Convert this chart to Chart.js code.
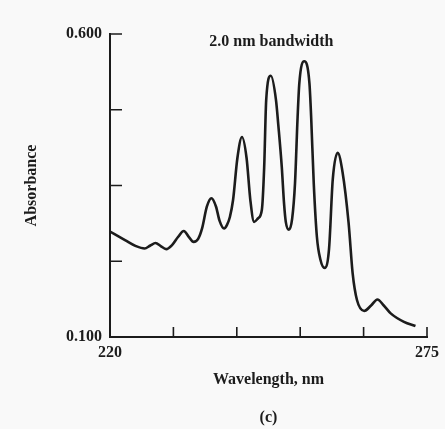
<!DOCTYPE html>
<html>
<head>
<meta charset="utf-8">
<script src="https://cdn.jsdelivr.net/npm/chart.js@4/dist/chart.umd.min.js"></script>
<style>
  html, body { margin: 0; padding: 0; background: #f9f9f9; }
  canvas { display: block; }
</style>
</head>
<body>
<canvas id="spectrum" width="445" height="429"></canvas>
<script>
// benzene vapour spectrum
const wavelength = [
  220.0, 222.6, 224.5, 226.0, 227.0, 227.9, 228.8, 229.75, 230.8, 231.8,
  232.8, 233.7, 234.5, 235.3, 236.0, 236.8, 237.6, 238.4, 239.0, 239.8,
  240.3, 240.8, 241.35, 242.1, 242.9, 243.7, 244.35, 245.0, 245.7, 246.35,
  246.75, 247.1, 247.9, 248.8, 249.2, 249.8, 250.2, 250.5, 251.05, 251.6,
  252.1, 252.55, 252.85, 253.7, 254.6, 254.9, 255.35, 255.9, 256.5, 257.25,
  258.0, 258.65, 259.5, 260.35, 261.4, 262.1, 262.85, 264.1, 265.3, 266.4,
  267.5, 268.7, 271.0, 273.0
];
const absorbance = [
  0.274, 0.260, 0.250, 0.246, 0.251, 0.255, 0.250, 0.245, 0.252, 0.265,
  0.275, 0.265, 0.257, 0.262, 0.280, 0.315, 0.329, 0.315, 0.292, 0.279,
  0.285, 0.298, 0.326, 0.395, 0.430, 0.395, 0.326, 0.290, 0.296, 0.310,
  0.380, 0.491, 0.531, 0.491, 0.450, 0.381, 0.320, 0.290, 0.277, 0.295,
  0.354, 0.463, 0.519, 0.555, 0.519, 0.463, 0.354, 0.265, 0.228, 0.214,
  0.245, 0.360, 0.404, 0.372, 0.288, 0.205, 0.161, 0.143, 0.152, 0.162,
  0.152, 0.139, 0.125, 0.118
];

const xTickValues = [220, 231, 242, 253, 264, 275];
const xTickLabels = ['220', '', '', '', '', '275'];
const yTickValues = [0.100, 0.225, 0.350, 0.475, 0.600];
const yTickLabels = ['0.100', '', '', '', '0.600'];

const ink = '#1c1c1c';
const serif = "'Liberation Serif', 'DejaVu Serif', serif";

// ticks in the original point into the plot, so draw them by hand
const inwardTicks = {
  id: 'inwardTicks',
  afterDatasetsDraw(chart) {
    const { ctx, chartArea, scales } = chart;
    ctx.save();
    ctx.strokeStyle = ink;
    ctx.lineWidth = 1.6;
    ctx.beginPath();
    scales.x.ticks.forEach(t => {
      const px = scales.x.getPixelForValue(t.value);
      ctx.moveTo(px, chartArea.bottom);
      ctx.lineTo(px, chartArea.bottom - 10);
    });
    scales.y.ticks.forEach(t => {
      const py = scales.y.getPixelForValue(t.value);
      ctx.moveTo(chartArea.left, py);
      ctx.lineTo(chartArea.left + 12, py);
    });
    ctx.stroke();
    ctx.restore();
  }
};

const bandNote = {
  id: 'bandNote',
  afterDraw(chart) {
    const { ctx, chartArea, scales } = chart;
    ctx.save();
    ctx.fillStyle = ink;
    ctx.font = 'bold 16px ' + serif;
    ctx.textAlign = 'center';
    ctx.textBaseline = 'middle';
    ctx.fillText('2.0 nm bandwidth', scales.x.getPixelForValue(248), chartArea.top + 8);
    ctx.restore();
  }
};

new Chart(document.getElementById('spectrum'), {
  type: 'line',
  data: {
    datasets: [{
      data: wavelength.map((w, i) => ({ x: w, y: absorbance[i] })),
      borderColor: ink,
      borderWidth: 2.6,
      pointRadius: 0,
      fill: false,
      cubicInterpolationMode: 'monotone'
    }]
  },
  options: {
    responsive: false,
    animation: false,
    layout: { padding: { left: 0, top: 34, right: 15, bottom: 0 } },
    plugins: { legend: { display: false }, tooltip: { enabled: false } },
    scales: {
      x: {
        type: 'linear',
        min: 220,
        max: 275,
        afterBuildTicks: s => { s.ticks = xTickValues.map(v => ({ value: v })); },
        afterFit: s => { s.height = 92; },
        grid: { drawOnChartArea: false, drawTicks: false },
        border: { color: ink, width: 2 },
        ticks: {
          autoSkip: false,
          maxRotation: 0,
          padding: 6,
          color: ink,
          font: { family: serif, size: 16, weight: 'bold' },
          callback: (v, i) => xTickLabels[i]
        },
        title: {
          display: true,
          text: ['Wavelength, nm', '', '(c)'],
          color: ink,
          padding: { top: 0, bottom: 1.5 },
          font: { family: serif, size: 16, weight: 'bold', lineHeight: 1.19 }
        }
      },
      y: {
        min: 0.1,
        max: 0.6,
        afterBuildTicks: s => { s.ticks = yTickValues.map(v => ({ value: v })); },
        afterFit: s => { s.width = 110; },
        grid: { drawOnChartArea: false, drawTicks: false },
        border: { color: ink, width: 2 },
        ticks: {
          padding: 8,
          color: ink,
          font: { family: serif, size: 16, weight: 'bold' },
          callback: (v, i) => yTickLabels[i]
        },
        title: {
          display: true,
          text: 'Absorbance',
          color: ink,
          padding: { top: 22, bottom: 0 },
          font: { family: serif, size: 16, weight: 'bold', lineHeight: 1.19 }
        }
      }
    }
  },
  plugins: [inwardTicks, bandNote]
});
</script>
</body>
</html>
